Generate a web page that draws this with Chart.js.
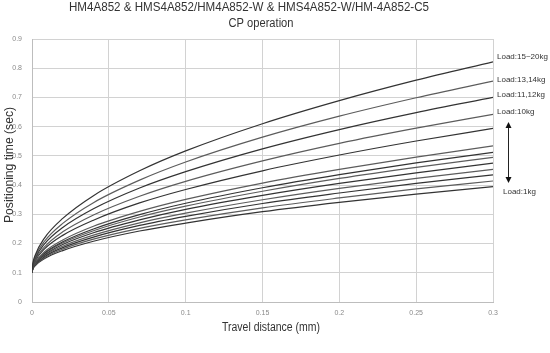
<!DOCTYPE html>
<html>
<head>
<meta charset="utf-8">
<script src="https://cdn.jsdelivr.net/npm/chart.js@4.4.1/dist/chart.umd.min.js"></script>
<style>
  html, body { margin: 0; padding: 0; background: #fff; }
  #wrap { width: 550px; height: 353px; }
</style>
</head>
<body>
<div id="wrap"><canvas id="grafico" width="550" height="353"></canvas></div>
<script>
// travel distance (mm)
const distance = [0, 0.0005, 0.002, 0.008, 0.02, 0.04, 0.07, 0.1, 0.15, 0.2, 0.25, 0.3];

// positioning time (sec)
const load15to20 = [0.1, 0.129, 0.159, 0.218, 0.286, 0.364, 0.449, 0.517, 0.610, 0.689, 0.759, 0.822];
const load13to14 = [0.1, 0.127, 0.154, 0.207, 0.269, 0.340, 0.417, 0.479, 0.564, 0.636, 0.699, 0.756];
const load11to12 = [0.1, 0.124, 0.149, 0.198, 0.255, 0.319, 0.390, 0.446, 0.524, 0.590, 0.648, 0.700];
const load10 = [0.1, 0.122, 0.144, 0.188, 0.240, 0.298, 0.362, 0.413, 0.483, 0.543, 0.595, 0.642];
const load9 = [0.1, 0.120, 0.140, 0.181, 0.228, 0.280, 0.339, 0.385, 0.449, 0.503, 0.551, 0.594];
const load8 = [0.1, 0.118, 0.135, 0.171, 0.212, 0.259, 0.310, 0.351, 0.407, 0.454, 0.496, 0.534];
const load7 = [0.1, 0.117, 0.134, 0.167, 0.206, 0.250, 0.299, 0.338, 0.391, 0.436, 0.476, 0.512];
const load6 = [0.1, 0.116, 0.132, 0.164, 0.202, 0.244, 0.291, 0.328, 0.379, 0.423, 0.461, 0.495];
const load5 = [0.1, 0.115, 0.131, 0.161, 0.197, 0.237, 0.281, 0.317, 0.365, 0.406, 0.442, 0.475];
const load4 = [0.1, 0.114, 0.129, 0.158, 0.191, 0.229, 0.271, 0.304, 0.350, 0.389, 0.423, 0.454];
const load3 = [0.1, 0.114, 0.127, 0.155, 0.186, 0.222, 0.262, 0.293, 0.337, 0.373, 0.406, 0.435];
const load2 = [0.1, 0.113, 0.126, 0.151, 0.181, 0.215, 0.252, 0.281, 0.322, 0.356, 0.387, 0.414];
const load1 = [0.1, 0.112, 0.124, 0.148, 0.176, 0.208, 0.243, 0.270, 0.309, 0.341, 0.369, 0.395];

const series = [
  { label: "Load:15~20kg", values: load15to20 },
  { label: "Load:13,14kg", values: load13to14 },
  { label: "Load:11,12kg", values: load11to12 },
  { label: "Load:10kg", values: load10 },
  { label: "Load:9kg", values: load9 },
  { label: "Load:8kg", values: load8 },
  { label: "Load:7kg", values: load7 },
  { label: "Load:6kg", values: load6 },
  { label: "Load:5kg", values: load5 },
  { label: "Load:4kg", values: load4 },
  { label: "Load:3kg", values: load3 },
  { label: "Load:2kg", values: load2 },
  { label: "Load:1kg", values: load1 }
];

const yTicks = [0, 0.1, 0.2, 0.3, 0.4, 0.5, 0.6, 0.7, 0.8, 0.9];
const xTicks = [0, 0.05, 0.1, 0.15, 0.2, 0.25, 0.3];

const datasets = series.map((s, i) => ({
  label: s.label,
  data: s.values.map((v, j) => ({ x: distance[j], y: v })),
  borderColor: i % 2 === 0 ? "#333333" : "#5c5c5c",
  borderWidth: 1.2,
  pointRadius: 0,
  fill: false,
  cubicInterpolationMode: "monotone"
}));

const FONT = "'Liberation Sans', Arial, sans-serif";

// draws text squeezed/stretched to a given width
function fitText(ctx, txt, x, y, w, size, color, rot) {
  ctx.save();
  ctx.font = size + "px " + FONT;
  ctx.fillStyle = color;
  ctx.textAlign = "center";
  ctx.textBaseline = "middle";
  ctx.translate(x, y);
  if (rot) ctx.rotate(rot);
  const m = ctx.measureText(txt).width;
  ctx.scale(w / m, 1);
  ctx.fillText(txt, 0, 0);
  ctx.restore();
}

const extras = {
  id: "extras",
  afterDraw(chart) {
    const ctx = chart.ctx;
    fitText(ctx, "HM4A852 & HMS4A852/HM4A852-W & HMS4A852-W/HM-4A852-C5", 249, 8, 360, 12, "#333");
    fitText(ctx, "CP operation", 261, 24, 65, 12, "#333");
    fitText(ctx, "Positioning time (sec)", 10, 165, 116, 12, "#333", -Math.PI / 2);
    fitText(ctx, "Travel distance (mm)", 271, 328, 98, 12, "#333");

    ctx.save();
    ctx.font = "8px " + FONT;
    ctx.fillStyle = "#333";
    ctx.textAlign = "left";
    ctx.textBaseline = "middle";
    ctx.fillText("Load:15~20kg", 497, 57);
    ctx.fillText("Load:13,14kg", 497, 80);
    ctx.fillText("Load:11,12kg", 497, 95);
    ctx.fillText("Load:10kg", 497, 112);
    ctx.fillText("Load:1kg", 503, 192);

    // double arrow
    const ax = 508.5, top = 122, bot = 183;
    ctx.strokeStyle = "#222";
    ctx.fillStyle = "#111";
    ctx.lineWidth = 1;
    ctx.beginPath();
    ctx.moveTo(ax, top + 4);
    ctx.lineTo(ax, bot - 4);
    ctx.stroke();
    ctx.beginPath();
    ctx.moveTo(ax, top);
    ctx.lineTo(ax - 3, top + 6);
    ctx.lineTo(ax + 3, top + 6);
    ctx.closePath();
    ctx.fill();
    ctx.beginPath();
    ctx.moveTo(ax, bot);
    ctx.lineTo(ax - 3, bot - 6);
    ctx.lineTo(ax + 3, bot - 6);
    ctx.closePath();
    ctx.fill();
    ctx.restore();
  }
};

const ctx = document.getElementById("grafico").getContext("2d");
new Chart(ctx, {
  type: "line",
  data: { datasets: datasets },
  options: {
    responsive: false,
    animation: false,
    layout: { padding: { left: 0, right: 57, top: 39, bottom: 0 } },
    plugins: {
      legend: { display: false },
      tooltip: { enabled: false },
      title: { display: false }
    },
    scales: {
      x: {
        type: "linear",
        min: 0,
        max: 0.3,
        afterFit: s => { s.height = 51; },
        afterBuildTicks: s => { s.ticks = xTicks.map(v => ({ value: v })); },
        grid: { color: "#d2d2d2", drawTicks: false },
        border: { color: "#bdbdbd" },
        ticks: {
          padding: 7,
          color: "#8a8a8a",
          font: { size: 7, family: FONT },
          maxRotation: 0,
          callback: v => String(+v.toFixed(2))
        }
      },
      y: {
        min: 0,
        max: 0.9,
        afterFit: s => { s.width = 32; },
        afterBuildTicks: s => { s.ticks = yTicks.map(v => ({ value: v })); },
        grid: { color: "#d2d2d2", drawTicks: false },
        border: { color: "#bdbdbd" },
        ticks: {
          padding: 10,
          color: "#8a8a8a",
          font: { size: 7, family: FONT },
          callback: v => String(+v.toFixed(1))
        }
      }
    }
  },
  plugins: [extras]
});
</script>
</body>
</html>
